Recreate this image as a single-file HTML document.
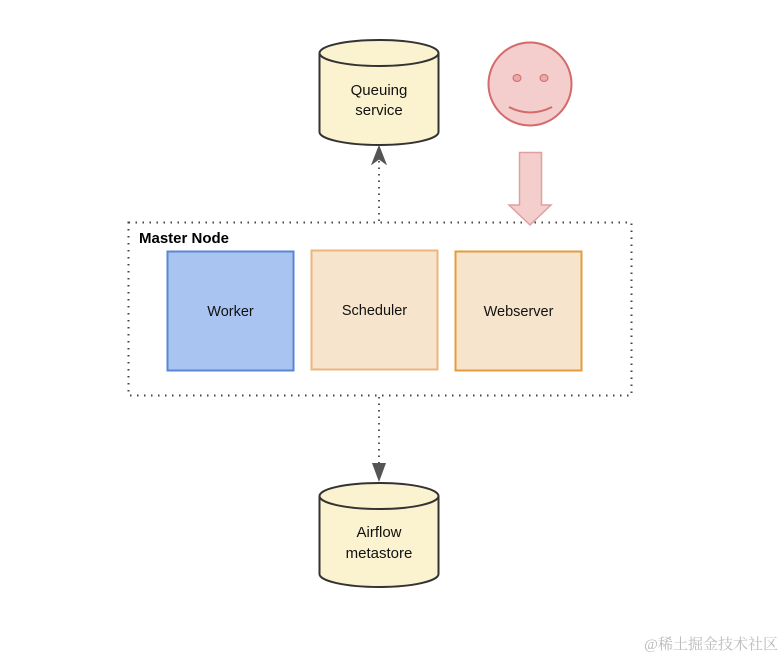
<!DOCTYPE html>
<html><head><meta charset="utf-8"><style>
html,body{margin:0;padding:0;background:#fff;}
svg{display:block;font-family:"Liberation Sans",Arial,sans-serif;}
</style></head><body>
<svg width="784" height="658" viewBox="0 0 784 658" xmlns="http://www.w3.org/2000/svg">
<rect x="128.5" y="222.5" width="503" height="173" fill="none" stroke="#444" stroke-width="2" stroke-dasharray="1.5 5.5"/>
<text x="139" y="243" font-size="15" font-weight="bold" fill="#000">Master Node</text>
<rect x="167.5" y="251.5" width="126" height="119" fill="#a9c4f1" stroke="#5b86d6" stroke-width="2"/>
<text x="230.5" y="316" font-size="14.5" text-anchor="middle" fill="#111">Worker</text>
<rect x="311.5" y="250.5" width="126" height="119" fill="#f7e4cc" stroke="#ecb57c" stroke-width="2"/>
<text x="374.5" y="315" font-size="14.5" text-anchor="middle" fill="#111">Scheduler</text>
<rect x="455.5" y="251.5" width="126" height="119" fill="#f7e4cc" stroke="#e59b3f" stroke-width="2"/>
<text x="518.5" y="316" font-size="14.5" text-anchor="middle" fill="#111">Webserver</text>
<path d="M319.5,53 L319.5,132 A59.5,13 0 0 0 438.5,132 L438.5,53" fill="#fbf2cf" stroke="#333" stroke-width="2"/>
<ellipse cx="379" cy="53" rx="59.5" ry="13" fill="#fbf2cf" stroke="#333" stroke-width="2"/>
<text x="379" y="95" font-size="15" text-anchor="middle" fill="#111">Queuing</text>
<text x="379" y="115" font-size="15" text-anchor="middle" fill="#111">service</text>
<line x1="379" y1="221" x2="379" y2="160" stroke="#555" stroke-width="2" stroke-dasharray="1.5 5"/>
<path d="M379,146 L372,164 L379,159 L386,164 Z" fill="#555" stroke="#555" stroke-width="1"/>
<path d="M319.5,496 L319.5,574 A59.5,13 0 0 0 438.5,574 L438.5,496" fill="#fbf2cf" stroke="#333" stroke-width="2"/>
<ellipse cx="379" cy="496" rx="59.5" ry="13" fill="#fbf2cf" stroke="#333" stroke-width="2"/>
<text x="379" y="537" font-size="15" text-anchor="middle" fill="#111">Airflow</text>
<text x="379" y="558" font-size="15" text-anchor="middle" fill="#111">metastore</text>
<line x1="379" y1="397" x2="379" y2="464" stroke="#555" stroke-width="2" stroke-dasharray="1.5 5"/>
<path d="M379,482 L372,463 L386,463 Z" fill="#555"/>
<circle cx="530" cy="84" r="41.5" fill="#f4cdcd" stroke="#d46a6a" stroke-width="2"/>
<ellipse cx="517" cy="78" rx="4" ry="3.5" fill="#e8a9a9" stroke="#d46a6a" stroke-width="1"/>
<ellipse cx="544" cy="78" rx="4" ry="3.5" fill="#e8a9a9" stroke="#d46a6a" stroke-width="1"/>
<path d="M509,107 Q530,118 552,107" fill="none" stroke="#d46a6a" stroke-width="2"/>
<path d="M519.5,152.5 L541.5,152.5 L541.5,205 L551,205 L530,225 L509,205 L519.5,205 Z" fill="#f4cdcd" stroke="#e0a0a0" stroke-width="1.5"/>
<text x="778" y="649" font-size="15" text-anchor="end" fill="#bbb" font-family="'Liberation Serif','Noto Serif CJK SC',serif">@稀土掘金技术社区</text>
</svg>
</body></html>
